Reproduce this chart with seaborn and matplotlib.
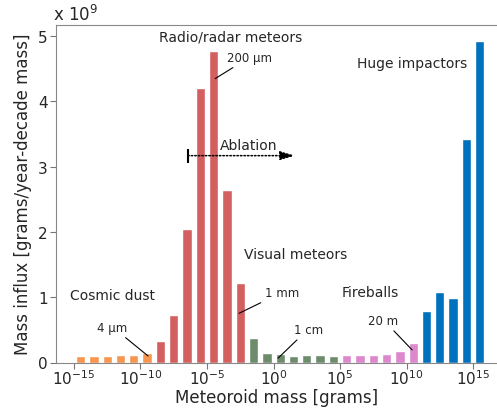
import numpy as np
import pandas as pd
import matplotlib
matplotlib.use("Agg")
import matplotlib.pyplot as plt
import seaborn as sns

# bin centres (log10 of mass in grams), one bar per decade
mass_exp = [-14.5, -13.5, -12.5, -11.5, -10.5, -9.5,
            -8.5, -7.5, -6.5, -5.5, -4.5, -3.5, -2.5,
            -1.5, -0.5, 0.5, 1.5, 2.5, 3.5, 4.5,
            5.5, 6.5, 7.5, 8.5, 9.5, 10.5,
            11.5, 12.5, 13.5, 14.5, 15.5]
# mass influx, units of 1e9 grams/year-decade mass
influx = [0.10, 0.10, 0.10, 0.115, 0.115, 0.145,
          0.335, 0.73, 2.04, 4.21, 4.78, 2.64, 1.22,
          0.38, 0.15, 0.13, 0.10, 0.115, 0.115, 0.10,
          0.115, 0.115, 0.115, 0.13, 0.18, 0.30,
          0.79, 1.08, 0.99, 3.42, 4.93]
group = (["dust"] * 6 + ["radar"] * 7 + ["visual"] * 7
         + ["fireball"] * 6 + ["impactor"] * 5)
colors = {"dust": "#f8964f", "radar": "#d45f5f", "visual": "#6c8c6c",
          "fireball": "#dd88cc", "impactor": "#0071bc"}

df = pd.DataFrame({"mass": 10.0 ** np.array(mass_exp),
                   "influx": influx, "group": group})

sns.set_style("ticks")
plt.rcParams["font.family"] = ["DejaVu Sans"]
plt.rcParams["axes.unicode_minus"] = False

fig = plt.figure(figsize=(4.97, 4.10), dpi=100)
ax = fig.add_axes([56 / 497, 46.5 / 410, 441 / 497, 338 / 410])
ax.set_xscale("log")
sns.barplot(data=df, x="mass", y="influx", hue="group", palette=colors,
            native_scale=True, dodge=False, width=0.7, saturation=1,
            errorbar=None, legend=False, ax=ax)

ax.set_xlim(10 ** -16.35, 10 ** 16.8)
ax.set_ylim(0, 5.18)
ax.set_xticks([10.0 ** e for e in range(-15, 16, 5)])
ax.xaxis.set_minor_locator(matplotlib.ticker.NullLocator())
ax.set_yticks([0, 1, 2, 3, 4, 5])
ax.tick_params(labelsize=11, color="#777777", length=4, pad=2)
ax.tick_params(axis="x", pad=0.5)
for s in ["left", "top", "bottom"]:
    ax.spines[s].set_color("#888888")
ax.spines["right"].set_visible(False)
ax.set_xlabel("Meteoroid mass [grams]", fontsize=12, labelpad=0.5)
ax.set_ylabel("Mass influx [grams/year-decade mass]", fontsize=12, labelpad=4)
fig.text(53 / 497, 1 - 15 / 410, "x 10$^9$", fontsize=12,
         ha="left", va="center")

def X(e):
    return 10.0 ** e

# group labels
ax.text(X(-3.23), 4.99, "Radio/radar meteors", fontsize=10, ha="center", va="center")
ax.text(X(10.42), 4.59, "Huge impactors", fontsize=10, ha="center", va="center")
ax.text(X(1.66), 1.67, "Visual meteors", fontsize=10, ha="center", va="center")
ax.text(X(-12.12), 1.03, "Cosmic dust", fontsize=10, ha="center", va="center")
ax.text(X(7.3), 1.075, "Fireballs", fontsize=10, ha="center", va="center")
ax.text(X(-1.84), 3.34, "Ablation", fontsize=10, ha="center", va="center")

# ablation arrow
abl_start, abl_end, abl_y = -6.45, 1.62, 3.17
ax.annotate("", xy=(X(abl_end), abl_y), xytext=(X(abl_start), abl_y),
            arrowprops=dict(arrowstyle="-|>,head_length=0.75,head_width=0.22",
                            mutation_scale=12, linestyle=(0, (1, 1.3)),
                            lw=1.1, color="black", shrinkA=0, shrinkB=0))
ax.plot([X(abl_start)], [abl_y], marker="|", ms=10.5, mew=1.5, color="black")

# size labels
sizes = [("200 µm", -1.78, 4.68, -4.39, 4.35),
         ("4 µm", -12.10, 0.544, -9.43, 0.10),
         ("1 mm", 0.64, 1.075, -2.59, 0.754),
         ("1 cm", 2.60, 0.51, 0.34, 0.066),
         ("20 m", 8.27, 0.65, 10.42, 0.193)]
for lab, tx, ty, px, py in sizes:
    ax.annotate(lab, xy=(X(px), py), xytext=(X(tx), ty), fontsize=8.5,
                ha="center", va="center",
                arrowprops=dict(arrowstyle="-", lw=0.8, color="black",
                                shrinkA=1, shrinkB=0))

fig.savefig("out.png", dpi=100)
